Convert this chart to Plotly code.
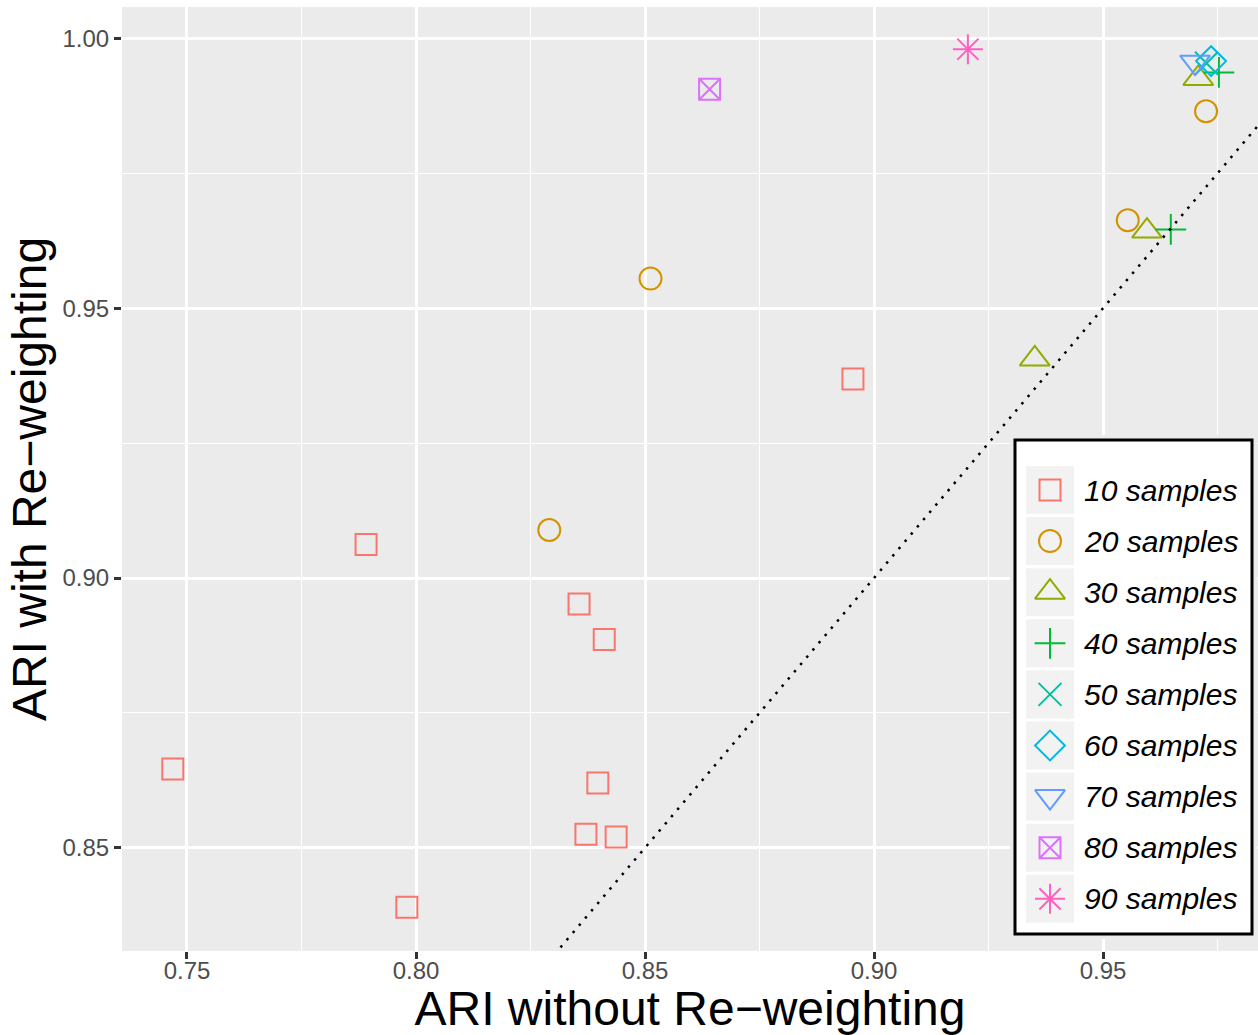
import plotly.graph_objects as go

# ARI values per sample-size group: x = without re-weighting, y = with re-weighting
groups = ["10 samples", "20 samples", "30 samples", "40 samples", "50 samples",
          "60 samples", "70 samples", "80 samples", "90 samples"]

ari_without = [
    [0.7469, 0.7891, 0.7980, 0.8356, 0.8411, 0.8397, 0.8371, 0.8437, 0.8954],
    [0.8291, 0.8512, 0.9554, 0.9725],
    [0.9351, 0.9596, 0.9708],
    [0.9648, 0.9753],
    [0.9726],
    [0.9736],
    [0.9701],
    [0.8641],
    [0.9205],
]
ari_with = [
    [0.8646, 0.9062, 0.8390, 0.8952, 0.8886, 0.8620, 0.8525, 0.8520, 0.9369],
    [0.9089, 0.9555, 0.9663, 0.9865],
    [0.9406, 0.9643, 0.9926],
    [0.9646, 0.9937],
    [0.9954],
    [0.9958],
    [0.9956],
    [0.9906],
    [0.9980],
]

colors = ["#F8766D", "#D39200", "#93AA00", "#00BA38", "#00C19F",
          "#00B9E3", "#619CFF", "#DB72FB", "#FF61C3"]
symbols = ["square-open", "circle-open", "triangle-up-open", "cross-thin-open",
           "x-thin-open", "diamond-open", "triangle-down-open", "square-x-open",
           "asterisk-open"]
sizes = [21, 22, 26, 22, 23, 23, 26, 21, 25]

x_range = [0.73581, 0.98384]
y_range = [0.83087, 1.00583]

fig = go.Figure()

for name, xs, ys, c, s, sz in zip(groups, ari_without, ari_with, colors, symbols, sizes):
    fig.add_trace(go.Scatter(
        x=xs, y=ys, mode="markers", name=name, showlegend=False,
        marker=dict(symbol=s, size=sz, color=c, line=dict(color=c, width=2)),
        xaxis="x", yaxis="y",
    ))

# identity reference line y = x
fig.add_trace(go.Scatter(
    x=[0.70, 1.02], y=[0.70, 1.02], mode="lines", showlegend=False,
    line=dict(color="black", width=2.5, dash="2.5px,7px"),
    xaxis="x", yaxis="y", hoverinfo="skip",
))

# custom legend drawn on its own subplot (units are pixels inside the box)
box_w, box_h = 237, 494
row0, row_step = 50, 51.1
key_cx, key_half = 35, 24
text_x = 67

shapes = [dict(type="rect", xref="x2", yref="y2", x0=0, x1=box_w, y0=0, y1=box_h,
               fillcolor="white", line=dict(color="black", width=3), layer="below")]
annotations = []
for i, (name, c, s, sz) in enumerate(zip(groups, colors, symbols, sizes)):
    cy = row0 + row_step * i
    shapes.append(dict(type="rect", xref="x2", yref="y2",
                       x0=key_cx - key_half, x1=key_cx + key_half,
                       y0=cy - key_half, y1=cy + key_half,
                       fillcolor="#F2F2F2", line=dict(width=0), layer="below"))
    fig.add_trace(go.Scatter(
        x=[key_cx], y=[cy], mode="markers", showlegend=False, hoverinfo="skip",
        marker=dict(symbol=s, size=sz, color=c, line=dict(color=c, width=2)),
        xaxis="x2", yaxis="y2",
    ))
    annotations.append(dict(
        xref="x2", yref="y2", x=text_x, y=cy, text=f"<i>{name}</i>",
        showarrow=False, xanchor="left", yanchor="middle",
        font=dict(family="Liberation Sans, Arial, sans-serif", size=30, color="black"),
    ))

W, H = 1258, 1035
ml, mr, mt, mb = 122, 0, 7, 84
pw, ph = W - ml - mr, H - mt - mb
pad = 5
lx0, lx1 = 1015 - pad, 1252 + pad
ly0, ly1 = 440 - pad, 934 + pad

axis_common = dict(
    showgrid=True, gridcolor="white", gridwidth=2.6,
    zeroline=False, showline=False,
    ticks="outside", ticklen=7, tickwidth=2.5, tickcolor="#333333",
    tickfont=dict(family="Liberation Sans, Arial, sans-serif", size=24, color="#4D4D4D"),
    tickformat=".2f", tickmode="linear", dtick=0.05,
    minor=dict(dtick=0.025, showgrid=True, gridcolor="white", gridwidth=1.3, ticks=""),
    fixedrange=True,
)

fig.update_layout(
    width=W, height=H,
    margin=dict(l=ml, r=mr, t=mt, b=mb, pad=0),
    paper_bgcolor="white", plot_bgcolor="#EBEBEB",
    font=dict(family="Liberation Sans, Arial, sans-serif"),
    xaxis=dict(axis_common, range=x_range, tick0=0.75, domain=[0, 1],
               ticklabelstandoff=-9,
               title=dict(text="ARI without Re−weighting", standoff=16,
                          font=dict(size=48, color="black"))),
    yaxis=dict(axis_common, range=y_range, tick0=0.85, domain=[0, 1],
               title=dict(text="ARI with Re−weighting", standoff=0,
                          font=dict(size=48, color="black"))),
    xaxis2=dict(range=[-pad, box_w + pad], domain=[(lx0 - ml) / pw, (lx1 - ml) / pw],
                visible=False, fixedrange=True, anchor="y2"),
    yaxis2=dict(range=[box_h + pad, -pad], domain=[(H - mb - ly1) / ph, (H - mb - ly0) / ph],
                visible=False, fixedrange=True, anchor="x2"),
    shapes=shapes,
    annotations=annotations,
    showlegend=False,
)

fig.write_html("out.html")
